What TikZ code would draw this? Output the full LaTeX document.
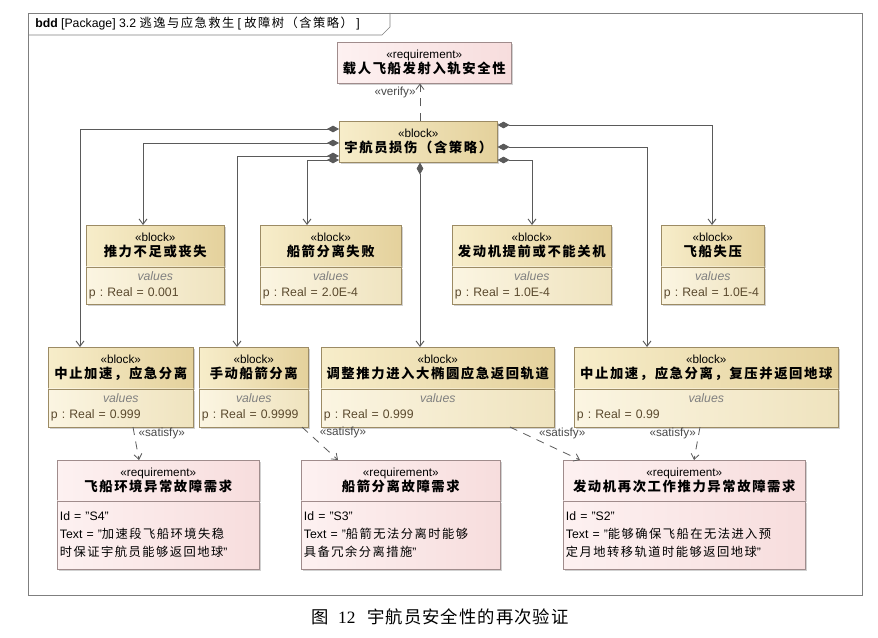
\documentclass[tikz,border=0pt]{standalone}
\usepackage{fontspec}
\setmainfont{Liberation Sans}
\newfontfamily\capserif{Liberation Serif}
\newfontfamily\cjk{Noto Sans CJK SC}[LetterSpace=12]
\newfontfamily\capcjk{Noto Sans CJK SC}[LetterSpace=6]
\usepackage{tikz}
\usetikzlibrary{positioning,arrows.meta,shadows}
\frenchspacing

\definecolor{blockline}{HTML}{9C8B64}
\definecolor{blocklight}{HTML}{F7EDCA}
\definecolor{blockdark}{HTML}{E4D19C}
\definecolor{valslight}{HTML}{FBF5E2}
\definecolor{valsdark}{HTML}{EFE3BE}
\definecolor{reqline}{HTML}{A08C8C}
\definecolor{reqlight}{HTML}{FDF1F1}
\definecolor{reqdark}{HTML}{F7DDDD}
\definecolor{wire}{HTML}{5A5A5A}
\definecolor{valtext}{HTML}{5B4A2E}
\definecolor{frameline}{HTML}{7F7F7F}

% bold chinese title inside a box
\newcommand\ttl[1]{{\cjk\bfseries\fontsize{10}{13}\selectfont #1}}

\tikzset{
  boxshadow/.style={drop shadow={shadow xshift=1.5pt,shadow yshift=-1.5pt,opacity=0.3,fill=black!60}},
  blockhead/.style={draw=blockline, left color=blocklight, right color=blockdark, boxshadow,
    anchor=north west, align=center, inner sep=1pt, minimum height=30.75pt,
    font=\fontsize{8.8}{11}\selectfont},
  blockvals/.style={draw=blockline, left color=valslight, right color=valsdark, boxshadow,
    align=center, inner xsep=2pt, inner ysep=3pt, font=\fontsize{9.2}{12}\selectfont\color{valtext}},
  reqhead/.style={draw=reqline, left color=reqlight, right color=reqdark, boxshadow,
    anchor=north west, align=center, inner sep=1pt, minimum height=30pt,
    font=\fontsize{8.8}{11}\selectfont},
  reqbody/.style={draw=reqline, left color=reqlight, right color=reqdark, boxshadow,
    align=left, inner xsep=2pt, inner ysep=3pt, minimum height=51pt,
    font=\fontsize{9.2}{13.5}\selectfont},
  compo/.style={draw=wire, line width=0.7pt,
    {Diamond[length=9pt,width=5pt,fill=wire]}-{Straight Barb[length=4pt,width=6pt]}},
  verify/.style={draw=wire, line width=0.6pt, dash pattern=on 6pt off 5pt,
    -{Straight Barb[length=4pt,width=6pt]}},
  satisfy/.style={draw=wire, line width=0.6pt, dash pattern=on 6pt off 5pt,
    -{Straight Barb[length=4pt,width=6pt]}},
  stereo/.style={font=\fontsize{8.8}{10}\selectfont, text=wire!80!black, inner sep=1pt}
}

\begin{document}
\begin{tikzpicture}[x=0.75pt, y=-0.75pt]
    \useasboundingbox (0,0) rectangle (878,638);

    % Draw the frame and its tab
    \draw[frameline] (28,13) rectangle (862,595);
    \draw[frameline] (28,35) -- (382,35) -- (390,27) -- (390,13);
    \node[anchor=west, inner sep=0pt, font=\fontsize{9.2}{11}\selectfont] (tab) at (35,24)
        {\textbf{bdd} [Package] 3.2 {\cjk\fontsize{9.2}{11}\selectfont 逃逸与应急救生} [ {\cjk\fontsize{9.2}{11}\selectfont 故障树（含策略）} ]};

    % Draw the top requirement and the root block
    \node[reqhead, minimum width=130.5pt, minimum height=30.75pt] (safety) at (337,42)
        {«requirement»\\\ttl{载人飞船发射入轨安全性}};
    \node[blockhead, minimum width=118.5pt] (crew) at (339,121)
        {«block»\\\ttl{宇航员损伤（含策略）}};

    % Draw the failure blocks
    \node[blockhead, minimum width=103.5pt] (thrust) at (86,225) {«block»\\\ttl{推力不足或丧失}};
    \node[blockvals, below=0pt of thrust, text width=99.5pt, minimum height=28pt] (thrustv)
        {{\itshape\color{gray}values}\\p : Real = 0.001\hfill\null};
    \node[blockhead, minimum width=105.75pt] (sep) at (260,225) {«block»\\\ttl{船箭分离失败}};
    \node[blockvals, below=0pt of sep, text width=101.75pt, minimum height=28pt] (sepv)
        {{\itshape\color{gray}values}\\p : Real = 2.0E-4\hfill\null};
    \node[blockhead, minimum width=119.25pt] (engine) at (452,225) {«block»\\\ttl{发动机提前或不能关机}};
    \node[blockvals, below=0pt of engine, text width=115.25pt, minimum height=28pt] (enginev)
        {{\itshape\color{gray}values}\\p : Real = 1.0E-4\hfill\null};
    \node[blockhead, minimum width=77.25pt] (press) at (661,225) {«block»\\\ttl{飞船失压}};
    \node[blockvals, below=0pt of press, text width=73.25pt, minimum height=28pt] (pressv)
        {{\itshape\color{gray}values}\\p : Real = 1.0E-4\hfill\null};

    % Draw the strategy blocks
    \node[blockhead, minimum width=108.75pt] (abort) at (48,347) {«block»\\\ttl{中止加速，应急分离}};
    \node[blockvals, below=0pt of abort, text width=104.75pt, minimum height=28.5pt] (abortv)
        {{\itshape\color{gray}values}\\p : Real = 0.999\hfill\null};
    \node[blockhead, minimum width=81.75pt] (manual) at (199,347) {«block»\\\ttl{手动船箭分离}};
    \node[blockvals, below=0pt of manual, text width=77.75pt, minimum height=28.5pt] (manualv)
        {{\itshape\color{gray}values}\\p : Real = 0.9999\hfill\null};
    \node[blockhead, minimum width=174.75pt] (orbit) at (321,347) {«block»\\\ttl{调整推力进入大椭圆应急返回轨道}};
    \node[blockvals, below=0pt of orbit, text width=170.75pt, minimum height=28.5pt] (orbitv)
        {{\itshape\color{gray}values}\\p : Real = 0.999\hfill\null};
    \node[blockhead, minimum width=198pt] (reentry) at (574,347) {«block»\\\ttl{中止加速，应急分离，复压并返回地球}};
    \node[blockvals, below=0pt of reentry, text width=194pt, minimum height=28.5pt] (reentryv)
        {{\itshape\color{gray}values}\\p : Real = 0.99\hfill\null};

    % Draw the requirements
    \node[reqhead, minimum width=151.5pt] (envreq) at (57,460) {«requirement»\\\ttl{飞船环境异常故障需求}};
    \node[reqbody, below=0pt of envreq, text width=147.5pt] (envreqb)
        {Id = "S4"\\Text = "{\cjk 加速段飞船环境失稳}\\{\cjk 时保证宇航员能够返回地球}"};
    \node[reqhead, minimum width=149.25pt] (sepreq) at (301,460) {«requirement»\\\ttl{船箭分离故障需求}};
    \node[reqbody, below=0pt of sepreq, text width=145.25pt] (sepreqb)
        {Id = "S3"\\Text = "{\cjk 船箭无法分离时能够}\\{\cjk 具备冗余分离措施}"};
    \node[reqhead, minimum width=181.5pt] (engreq) at (563,460) {«requirement»\\\ttl{发动机再次工作推力异常故障需求}};
    \node[reqbody, below=0pt of engreq, text width=177.5pt] (engreqb)
        {Id = "S2"\\Text = "{\cjk 能够确保飞船在无法进入预}\\{\cjk 定月地转移轨道时能够返回地球}"};

    % Draw the composition links
    \draw[compo] (crew.west |- 0,129) -| (abort.north -| 80,0);
    \draw[compo] (crew.west |- 0,143) -| (thrust.north -| 143,0);
    \draw[compo] (crew.west |- 0,156) -| (manual.north -| 237,0);
    \draw[compo] (crew.west |- 0,160) -| (sep.north -| 307,0);
    \draw[compo] (crew.east |- 0,125) -| (press.north -| 712,0);
    \draw[compo] (crew.east |- 0,147) -| (reentry.north -| 647,0);
    \draw[compo] (crew.east |- 0,160) -| (engine.north -| 532,0);
    \draw[compo] (crew.south -| 420,0) -- (orbit.north -| 420,0);

    % Draw the verify and satisfy links
    \draw[verify] (crew.north -| 420,0) -- (safety.south -| 420,0)
        node[stereo, pos=0.75, left=2pt] {«verify»};
    \draw[satisfy] (abortv.south -| 133,0) -- (envreq.north -| 139,0)
        node[stereo, pos=0.2, right=2pt] {«satisfy»};
    \draw[satisfy] (manualv.south -| 302,0) -- (sepreq.north -| 338,0)
        node[stereo, pos=0.15, right=8pt] {«satisfy»};
    \draw[satisfy] (orbitv.south -| 510,0) -- (engreq.north -| 580,0)
        node[stereo, pos=0.2, right=10pt] {«satisfy»};
    \draw[satisfy] (reentryv.south -| 700,0) -- (engreq.north -| 694,0)
        node[stereo, pos=0.18, left=1pt] {«satisfy»};

    % Draw the caption
    \node[font=\fontsize{13}{15}\selectfont] (caption) at (440,617)
        {{\capcjk 图}\hspace{7pt}{\capserif 12}\hspace{9pt}{\capcjk 宇航员安全性的再次验证}};
\end{tikzpicture}
\end{document}
